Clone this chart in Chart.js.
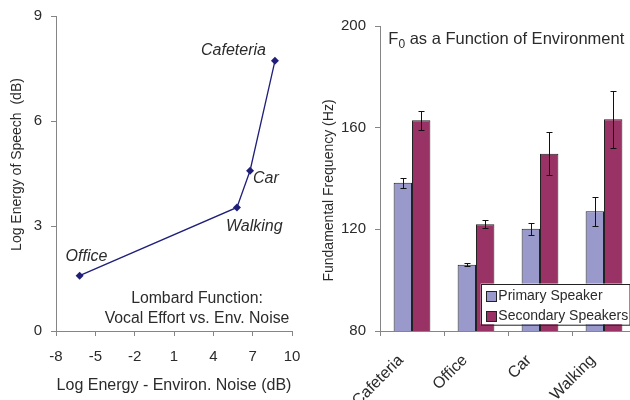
<!DOCTYPE html>
<html>
<head>
<meta charset="utf-8">
<script src="https://cdn.jsdelivr.net/npm/chart.js@4/dist/chart.umd.min.js"></script>
<style>
  html, body { margin: 0; padding: 0; width: 630px; height: 400px; overflow: hidden; background: #fff; }
  #lombard { position: absolute; left: 0; top: 0; }
  #f0chart { position: absolute; left: 310px; top: 0; }
</style>
</head>
<body>
<canvas id="lombard" width="310" height="400"></canvas>
<canvas id="f0chart" width="332" height="400"></canvas>
<script>
// Lombard function: speech energy against environmental noise energy
const environments = ['Office', 'Walking', 'Car', 'Cafeteria'];
const noiseEnergy = [-6.2, 5.8, 6.8, 8.7];
const speechEnergy = [1.58, 3.53, 4.58, 7.72];
const noiseTicks = [-8, -5, -2, 1, 4, 7, 10];
const speechTicks = [0, 3, 6, 9];

// Fundamental frequency per environment (mean and error)
const categories = ['Cafeteria', 'Office', 'Car', 'Walking'];
const seriesNames = ['Primary Speaker', 'Secondary Speakers'];
const primaryF0 = [138.3, 106.1, 120.2, 127.1];
const primaryErr = [2.0, 0.5, 2.4, 5.7];
const secondaryF0 = [162.9, 122.0, 149.7, 163.3];
const secondaryErr = [3.8, 1.6, 8.5, 11.3];
const f0Ticks = [80, 120, 160, 200];

const FONT = "'Liberation Sans', Arial, Helvetica, sans-serif";
const TEXT = '#2b2b2b';
const AXIS = '#858585';
const NAVY = '#1f1f7a';
const LAVENDER = '#9999cc';
const MAROON = '#993366';

Chart.defaults.font.family = FONT;
Chart.defaults.color = TEXT;

// vertical axis title, drawn a little above the middle of the plot
function sideTitle(text, x, shiftUp) {
  return {
    id: 'sideTitle',
    afterDraw(chart) {
      const { ctx, chartArea } = chart;
      ctx.save();
      ctx.translate(x, (chartArea.top + chartArea.bottom) / 2 - shiftUp);
      ctx.rotate(-Math.PI / 2);
      ctx.font = '14px ' + FONT;
      ctx.fillStyle = TEXT;
      ctx.textAlign = 'center';
      ctx.textBaseline = 'middle';
      ctx.fillText(text, 0, 0);
      ctx.restore();
    }
  };
}

// where each environment name sits relative to its point
const pointLabelStyle = [
  { dx: -14, dy: -19, align: 'left' },
  { dx: -11, dy: 19, align: 'left' },
  { dx: 3, dy: 8, align: 'left' },
  { dx: -9, dy: -10, align: 'right' }
];

const pointLabels = {
  id: 'pointLabels',
  afterDatasetsDraw(chart) {
    const ctx = chart.ctx;
    const meta = chart.getDatasetMeta(0);
    ctx.save();
    ctx.font = 'italic 16px ' + FONT;
    ctx.fillStyle = TEXT;
    ctx.textBaseline = 'middle';
    meta.data.forEach((pt, i) => {
      const s = pointLabelStyle[i];
      ctx.textAlign = s.align;
      ctx.fillText(environments[i], pt.x + s.dx, pt.y + s.dy);
    });
    ctx.restore();
  }
};

const lombardNote = {
  id: 'lombardNote',
  afterDraw(chart) {
    const { ctx, chartArea } = chart;
    ctx.save();
    ctx.font = '15.8px ' + FONT;
    ctx.fillStyle = TEXT;
    ctx.textAlign = 'center';
    ctx.textBaseline = 'middle';
    const cx = chartArea.right - 95;
    ctx.fillText('Lombard Function:', cx, chartArea.bottom - 32.5);
    ctx.fillText('Vocal Effort vs. Env. Noise', cx, chartArea.bottom - 12.5);
    ctx.restore();
  }
};

new Chart(document.getElementById('lombard'), {
  type: 'scatter',
  data: {
    datasets: [{
      data: noiseEnergy.map((x, i) => ({ x: x, y: speechEnergy[i] })),
      showLine: true,
      borderColor: NAVY,
      backgroundColor: NAVY,
      borderWidth: 1.3,
      pointStyle: 'rectRot',
      pointRadius: 4,
      pointBorderWidth: 0
    }]
  },
  options: {
    responsive: false,
    animation: false,
    layout: { padding: { left: 0, right: 18, top: 16, bottom: 0 } },
    plugins: { legend: { display: false }, tooltip: { enabled: false } },
    scales: {
      x: {
        type: 'linear', min: -8, max: 10,
        afterBuildTicks: s => { s.ticks = noiseTicks.map(v => ({ value: v })); },
        afterFit: s => { s.height = 69; s.paddingLeft = 0; s.paddingRight = 0; },
        grid: { drawOnChartArea: false, tickLength: 5, color: AXIS },
        border: { color: AXIS },
        ticks: { font: { size: 15 }, padding: 12, maxRotation: 0, autoSkip: false, color: TEXT },
        title: { display: true, text: 'Log Energy - Environ. Noise (dB)', font: { size: 16 }, color: TEXT, padding: { top: 0, bottom: 5 } }
      },
      y: {
        type: 'linear', min: 0, max: 9,
        afterBuildTicks: s => { s.ticks = speechTicks.map(v => ({ value: v })); },
        afterFit: s => { s.width = 56; s.paddingTop = 0; s.paddingBottom = 0; },
        grid: { drawOnChartArea: false, tickLength: 5, color: AXIS },
        border: { color: AXIS },
        ticks: { font: { size: 15 }, padding: 9, autoSkip: false, color: TEXT }
      }
    }
  },
  plugins: [pointLabels, lombardNote, sideTitle('Log Energy of Speech  (dB)', 17.5, 9)]
});

const errorBars = {
  id: 'errorBars',
  afterDatasetsDraw(chart) {
    const { ctx } = chart;
    const y = chart.scales.y;
    ctx.save();
    ctx.strokeStyle = '#111';
    ctx.lineWidth = 1;
    chart.data.datasets.forEach((ds, di) => {
      chart.getDatasetMeta(di).data.forEach((bar, i) => {
        const v = ds.data[i], e = ds.errors[i];
        const x = Math.round(bar.x) + 0.5;
        const yt = Math.round(y.getPixelForValue(v + e)) + 0.5;
        const yb = Math.round(y.getPixelForValue(v - e)) + 0.5;
        ctx.beginPath();
        ctx.moveTo(x, yt); ctx.lineTo(x, yb);
        ctx.moveTo(x - 3, yt); ctx.lineTo(x + 3, yt);
        ctx.moveTo(x - 3, yb); ctx.lineTo(x + 3, yb);
        ctx.stroke();
      });
    });
    ctx.restore();
  }
};

const f0Title = {
  id: 'f0Title',
  afterDraw(chart) {
    const { ctx, chartArea } = chart;
    ctx.save();
    ctx.fillStyle = TEXT;
    ctx.textAlign = 'left';
    ctx.textBaseline = 'middle';
    let x = chartArea.left + 8.3;
    const y = chartArea.top + 13.5;
    ctx.font = '16.5px ' + FONT;
    ctx.fillText('F', x, y);
    x += ctx.measureText('F').width;
    ctx.font = '12px ' + FONT;
    ctx.fillText('0', x, y + 5.5);
    x += ctx.measureText('0').width;
    ctx.font = '16.5px ' + FONT;
    ctx.fillText(' as a Function of Environment', x, y);
    ctx.restore();
  }
};

const boxLegend = {
  id: 'boxLegend',
  afterDraw(chart) {
    const { ctx, chartArea } = chart;
    const left = chartArea.left + 100.7;
    const top = chartArea.bottom - 47.4;
    const w = 148.5, h = 40.7;
    ctx.save();
    ctx.fillStyle = '#fff';
    ctx.fillRect(left, top, w, h);
    ctx.strokeStyle = '#222';
    ctx.lineWidth = 1;
    ctx.strokeRect(Math.round(left) + 0.5, Math.round(top) + 0.5, w, h);
    ctx.font = '14px ' + FONT;
    ctx.textAlign = 'left';
    ctx.textBaseline = 'middle';
    chart.data.datasets.forEach((ds, i) => {
      const cy = top + 12.4 + i * 20;
      ctx.fillStyle = ds.backgroundColor;
      ctx.fillRect(Math.round(left + 5) + 0.5, Math.round(cy - 5) + 0.5, 10, 10);
      ctx.strokeStyle = '#222';
      ctx.strokeRect(Math.round(left + 5) + 0.5, Math.round(cy - 5) + 0.5, 10, 10);
      ctx.fillStyle = TEXT;
      ctx.fillText(ds.label, left + 17.6, cy + 0.5);
    });
    ctx.restore();
  }
};

new Chart(document.getElementById('f0chart'), {
  type: 'bar',
  data: {
    labels: categories,
    datasets: [
      { label: seriesNames[0], data: primaryF0, errors: primaryErr, backgroundColor: LAVENDER, borderColor: '#222', borderWidth: 1 },
      { label: seriesNames[1], data: secondaryF0, errors: secondaryErr, backgroundColor: MAROON, borderColor: '#222', borderWidth: 1 }
    ]
  },
  options: {
    responsive: false,
    animation: false,
    layout: { padding: { left: 0, right: 6, top: 26, bottom: 0 } },
    datasets: { bar: { categoryPercentage: 0.574, barPercentage: 1 } },
    plugins: { legend: { display: false }, tooltip: { enabled: false } },
    scales: {
      x: {
        afterFit: s => { s.height = 69; s.paddingLeft = 0; s.paddingRight = 0; },
        grid: { drawOnChartArea: false, tickLength: 5, color: AXIS, offset: true },
        border: { color: AXIS },
        ticks: { font: { size: 16 }, minRotation: 45, maxRotation: 45, padding: 15, labelOffset: -11, autoSkip: false, color: TEXT }
      },
      y: {
        min: 80, max: 200,
        afterBuildTicks: s => { s.ticks = f0Ticks.map(v => ({ value: v })); },
        afterFit: s => { s.width = 70; s.paddingTop = 0; s.paddingBottom = 0; },
        grid: { drawOnChartArea: false, tickLength: 5, color: AXIS },
        border: { color: AXIS },
        ticks: { font: { size: 15 }, padding: 9, autoSkip: false, color: TEXT }
      }
    }
  },
  plugins: [errorBars, f0Title, boxLegend, sideTitle('Fundamental Frequency (Hz)', 19, -12)]
});
</script>
</body>
</html>
